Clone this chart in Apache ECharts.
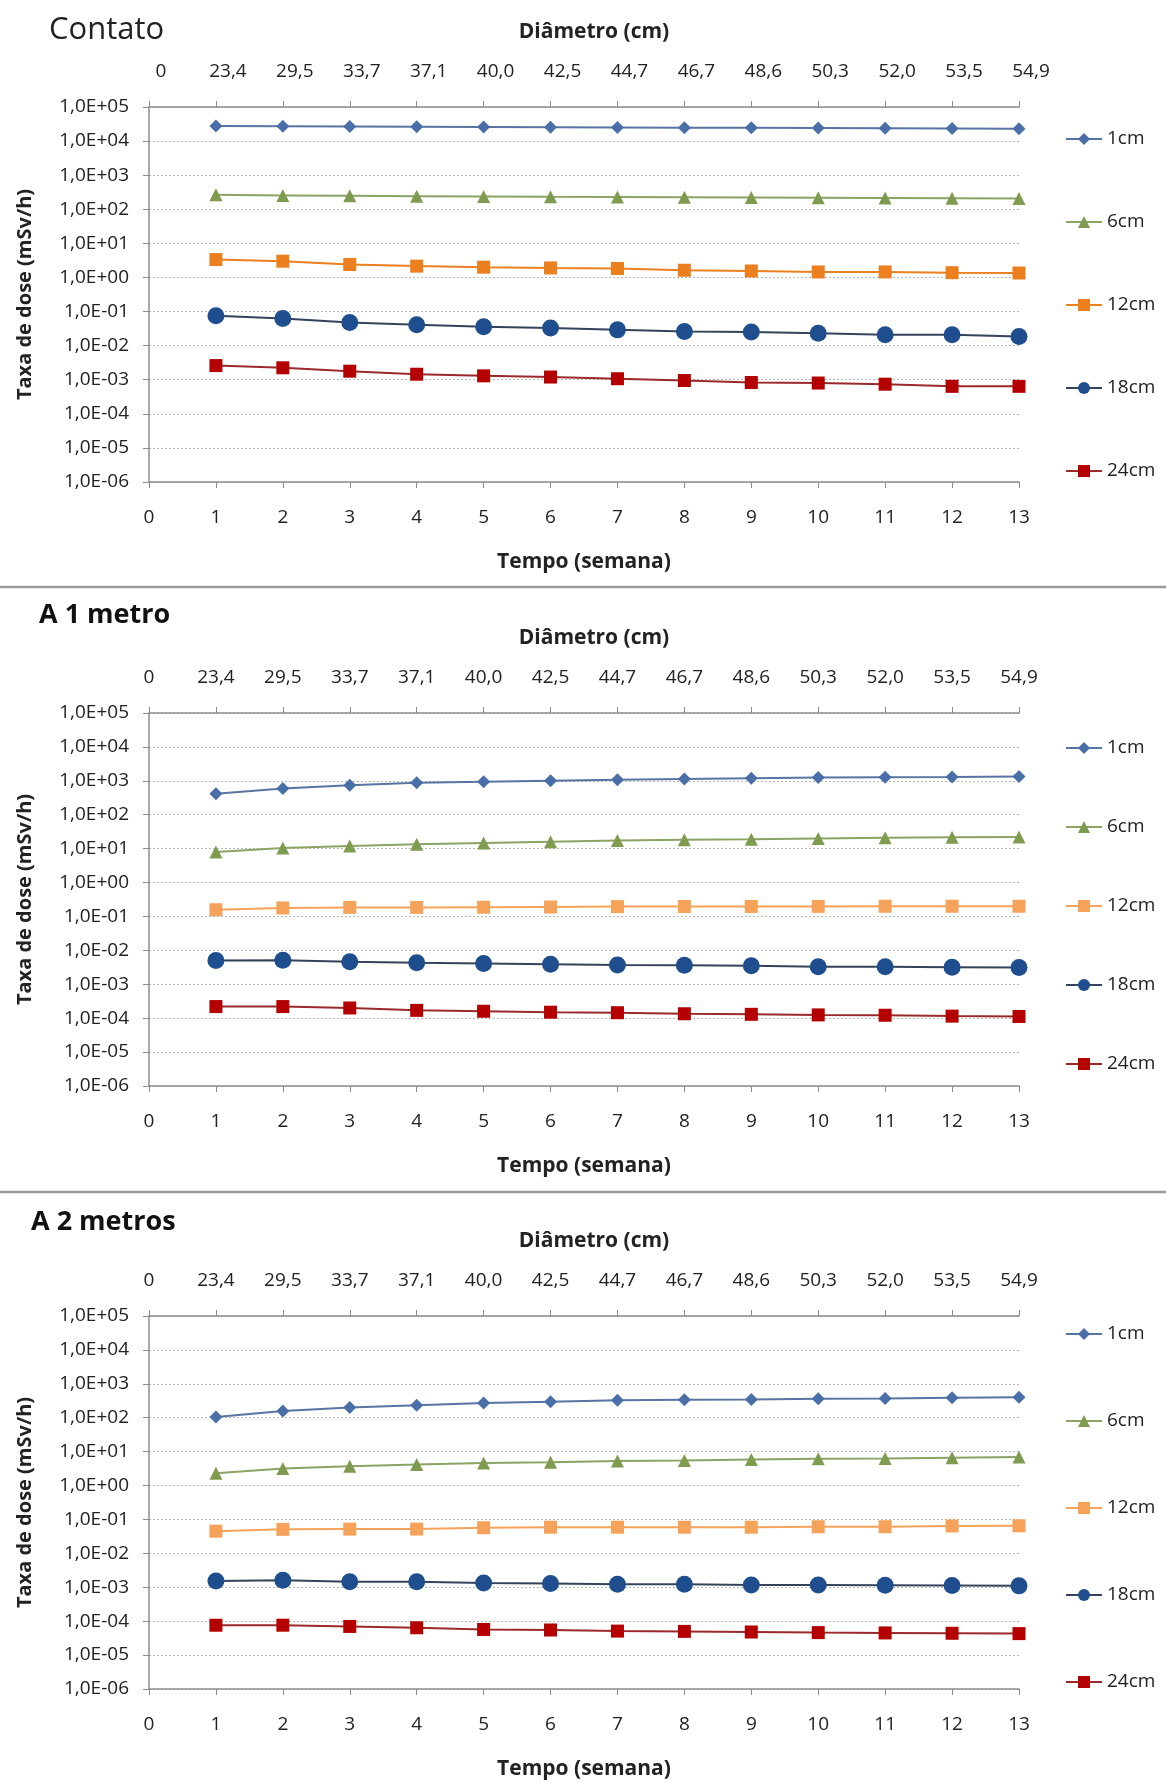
<!DOCTYPE html>
<html><head><meta charset="utf-8">
<script src="https://cdn.jsdelivr.net/npm/echarts@6/dist/echarts.min.js"></script>
<style>html,body{margin:0;padding:0;background:#fff}#c{width:1166px;height:1783px}</style>
</head><body><div id="c"></div>
<script>
// ---------- data ----------
const weeks = [1,2,3,4,5,6,7,8,9,10,11,12,13];
const weekTickLabels = ['0','1','2','3','4','5','6','7','8','9','10','11','12','13'];
const diameterLabels = ['0','23,4','29,5','33,7','37,1','40,0','42,5','44,7','46,7','48,6','50,3','52,0','53,5','54,9'];
const seriesNames = ['1cm','6cm','12cm','18cm','24cm'];
const panelTitles = ['Contato','A 1 metro','A 2 metros'];
const topAxisTitle = 'Diâmetro (cm)';
const bottomAxisTitle = 'Tempo (semana)';
const yAxisTitle = 'Taxa de dose (mSv/h)';

const contato_1cm  = [27500,27200,26800,26400,26000,25600,25200,24800,24500,24200,23800,23500,23000];
const contato_6cm  = [265,255,248,242,237,232,228,224,220,217,214,211,208];
const contato_12cm = [3.35,3.0,2.4,2.15,2.0,1.9,1.83,1.63,1.55,1.45,1.45,1.38,1.35];
const contato_18cm = [0.075,0.063,0.048,0.041,0.036,0.033,0.029,0.026,0.025,0.023,0.021,0.021,0.0186];
const contato_24cm = [0.0026,0.00224,0.00178,0.00145,0.0013,0.0012,0.00107,0.00095,0.00083,0.0008,0.00074,0.00064,0.00064];

const metro1_1cm  = [417,590,740,870,935,1000,1070,1140,1200,1250,1280,1300,1340];
const metro1_6cm  = [8.0,10.5,12,13.4,14.6,16,17.5,18.3,19,20,21,21.5,22];
const metro1_12cm = [0.158,0.178,0.185,0.185,0.187,0.19,0.195,0.197,0.197,0.198,0.2,0.2,0.2];
const metro1_18cm = [5.0e-3,5.1e-3,4.6e-3,4.3e-3,4.1e-3,3.9e-3,3.7e-3,3.65e-3,3.5e-3,3.3e-3,3.3e-3,3.2e-3,3.1e-3];
const metro1_24cm = [2.2e-4,2.2e-4,2.0e-4,1.7e-4,1.6e-4,1.5e-4,1.45e-4,1.35e-4,1.3e-4,1.25e-4,1.22e-4,1.15e-4,1.12e-4];

const metro2_1cm  = [105,158,200,235,270,295,325,340,345,360,370,390,400];
const metro2_6cm  = [2.3,3.2,3.7,4.2,4.6,4.9,5.3,5.5,5.9,6.2,6.3,6.6,6.9];
const metro2_12cm = [0.045,0.051,0.052,0.052,0.057,0.059,0.059,0.059,0.059,0.061,0.061,0.064,0.065];
const metro2_18cm = [1.52e-3,1.6e-3,1.46e-3,1.46e-3,1.34e-3,1.3e-3,1.22e-3,1.22e-3,1.17e-3,1.17e-3,1.14e-3,1.12e-3,1.1e-3];
const metro2_24cm = [7.6e-5,7.6e-5,7.0e-5,6.4e-5,5.7e-5,5.5e-5,5.1e-5,5.0e-5,4.8e-5,4.6e-5,4.5e-5,4.4e-5,4.3e-5];

const panelData = [
  [contato_1cm, contato_6cm, contato_12cm, contato_18cm, contato_24cm],
  [metro1_1cm, metro1_6cm, metro1_12cm, metro1_18cm, metro1_24cm],
  [metro2_1cm, metro2_6cm, metro2_12cm, metro2_18cm, metro2_24cm]
];

// ---------- styles / layout ----------
const FONT = '"Open Sans", "Noto Sans", sans-serif';
const grids = [
  {left:149, top:107, width:870, height:375},
  {left:149, top:713, width:870, height:373},
  {left:149, top:1316, width:870, height:373}
];
const legendTops = [124, 733, 1319];
const legendGaps = [63, 59, 67];
const topLabelShift = [24, 0, 0];
const styles = [
  {symbol:'diamond', size:13, marker:'#4A6FA8', line:'#5874A0'},
  {symbol:'triangle', size:13, marker:'#7F9B4F', line:'#8CA366'},
  {symbol:'rect', size:13, marker:'#EE8420', line:'#F0A060'},
  {symbol:'circle', size:17, marker:'#1F4E8F', line:'#34435A'},
  {symbol:'rect', size:13, marker:'#B40000', line:'#9A2A2A'}
];
const orange12 = ['#EC7F1E', '#F5A35A', '#F5A35A'];

function sciLabel(v){
  const e = Math.round(Math.log10(v));
  const s = e < 0 ? '-' : '+';
  const a = Math.abs(e);
  return '1,0E' + s + (a < 10 ? '0' + a : '' + a);
}

const xAxes = [], yAxes = [], series = [], legends = [];
grids.forEach((g, p) => {
  const suffix = ' '.repeat(p); // distinguishes series per panel; trimmed in legend
  xAxes.push({
    gridIndex:p, type:'value', position:'bottom', min:0, max:13, interval:1,
    name:bottomAxisTitle, nameLocation:'middle', nameGap:70,
    nameTextStyle:{fontFamily:FONT, fontWeight:'bold', fontSize:21, color:'#222'},
    axisLine:{show:true, lineStyle:{color:'#8c8c8c', width:1.5}},
    axisTick:{show:true, length:6, lineStyle:{color:'#8c8c8c'}},
    axisLabel:{margin:26, fontFamily:FONT, fontSize:19, color:'#222',
      showMinLabel:true, showMaxLabel:true,
      formatter: v => weekTickLabels[Math.round(v)]},
    splitLine:{show:false}
  });
  xAxes.push({
    gridIndex:p, type:'value', position:'top', min:0, max:13, interval:1,
    name:topAxisTitle, nameLocation:'middle', nameGap:64,
    nameTextStyle:{fontFamily:FONT, fontWeight:'bold', fontSize:21, color:'#222', padding:[0,0,0,20]},
    axisLine:{show:true, lineStyle:{color:'#8c8c8c', width:1.5}},
    axisTick:{show:true, length:6, lineStyle:{color:'#8c8c8c'}},
    axisLabel:{margin:26, fontFamily:FONT, fontSize:19, color:'#222',
      showMinLabel:true, showMaxLabel:true, padding:[0,0,0,topLabelShift[p]],
      formatter: v => diameterLabels[Math.round(v)]},
    splitLine:{show:false}
  });
  yAxes.push({
    gridIndex:p, type:'log', logBase:10, min:1e-6, max:1e5, interval:1, splitNumber:11,
    name:yAxisTitle, nameLocation:'middle', nameGap:114, nameRotate:90,
    nameTextStyle:{fontFamily:FONT, fontWeight:'bold', fontSize:20, color:'#222'},
    axisLine:{show:true, lineStyle:{color:'#8c8c8c', width:1.5}},
    axisTick:{show:true, length:6, lineStyle:{color:'#8c8c8c'}},
    axisLabel:{margin:20, fontFamily:FONT, fontSize:19, color:'#222', formatter: sciLabel},
    splitLine:{show:true, lineStyle:{color:'#b5b5b5', type:[2,2], width:1}},
    minorTick:{show:false}
  });
  const names = [];
  panelData[p].forEach((vals, i) => {
    const st = styles[i];
    const markerColor = i === 2 ? orange12[p] : st.marker;
    const lineColor = i === 2 ? orange12[p] : st.line;
    const nm = seriesNames[i] + suffix;
    names.push(nm);
    series.push({
      type:'line', name:nm, xAxisIndex:2*p, yAxisIndex:p,
      data: weeks.map((w, k) => [w, vals[k]]),
      symbol: st.symbol, symbolSize: st.size, showSymbol:true,
      itemStyle:{color:markerColor},
      lineStyle:{color:lineColor, width:2},
      animation:false
    });
  });
  legends.push({
    data:names, orient:'vertical', left:1060, top:legendTops[p],
    itemWidth:36, itemHeight:15, itemGap:legendGaps[p],
    formatter: n => n.trim(),
    textStyle:{fontFamily:FONT, fontSize:19, color:'#222', lineHeight:20},
    selectedMode:false
  });
});

const graphic = [
  {type:'text', left:49, top:15, style:{text:panelTitles[0], font:'31px ' + FONT, fill:'#222'}},
  {type:'text', left:39, top:602, style:{text:panelTitles[1], font:'bold 27px ' + FONT, fill:'#111'}},
  {type:'text', left:31, top:1209, style:{text:panelTitles[2], font:'bold 27px ' + FONT, fill:'#111'}},
  {type:'line', shape:{x1:0, y1:587, x2:1166, y2:587}, style:{stroke:'#9a9a9a', lineWidth:2.5}},
  {type:'line', shape:{x1:0, y1:1192, x2:1166, y2:1192}, style:{stroke:'#9a9a9a', lineWidth:2.5}}
];

const chart = echarts.init(document.getElementById('c'), null, {renderer:'canvas'});
chart.setOption({
  backgroundColor:'#fff',
  animation:false,
  grid: grids.map(g => Object.assign({containLabel:false}, g)),
  xAxis: xAxes,
  yAxis: yAxes,
  legend: legends,
  series: series,
  graphic: graphic
});
</script></body></html>
